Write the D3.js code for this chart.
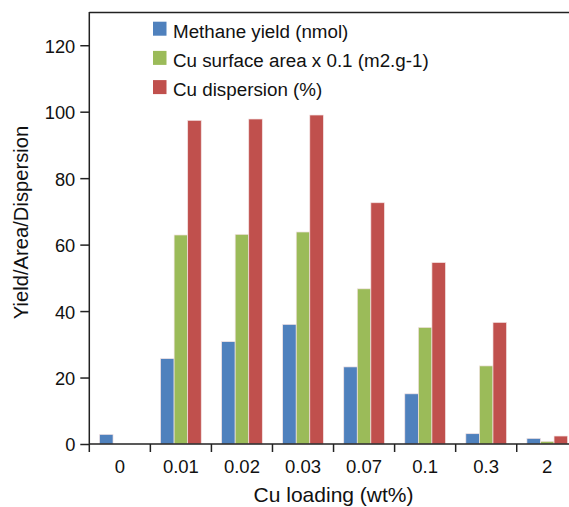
<!DOCTYPE html>
<html>
<head>
<meta charset="utf-8">
<script src="https://cdn.jsdelivr.net/npm/d3@7"></script>
<style>
  body { margin: 0; background: #fff; }
  svg { display: block; font-family: "Liberation Sans", Arial, sans-serif; }
</style>
</head>
<body>
<svg id="chart" width="569" height="507"></svg>
<script>
// chart data
const categories = ["0", "0.01", "0.02", "0.03", "0.07", "0.1", "0.3", "2"];
const seriesNames = ["Methane yield (nmol)", "Cu surface area x 0.1 (m2.g-1)", "Cu dispersion (%)"];
const methaneYield = [2.9, 25.7, 30.8, 36.0, 23.2, 15.1, 3.1, 1.7];
const surfaceArea = [0, 62.9, 63.1, 63.8, 46.7, 35.1, 23.5, 0.8];
const dispersion = [0, 97.4, 97.8, 99.0, 72.6, 54.6, 36.6, 2.4];
const yTicks = [0, 20, 40, 60, 80, 100, 120];

const colors = ["#4f81bd", "#9bbb59", "#c0504d"];
const seriesValues = [methaneYield, surfaceArea, dispersion];

const svg = d3.select("svg#chart");

const plotLeft = 89.3, plotTop = 12, plotBottom = 444;
const step = 61.06;

const x0 = d3.scaleBand()
             .domain(categories)
             .range([plotLeft, plotLeft + step * categories.length])
             .padding(0);

const x1 = d3.scaleBand()
             .domain(d3.range(seriesNames.length))
             .range([0, x0.bandwidth()])
             .paddingInner(0)
             .paddingOuter(0.75);

const y = d3.scaleLinear()
            .domain([0, 130])
            .range([plotBottom, plotTop]);

// bars
const groups = svg.append("g")
                  .selectAll("g")
                  .data(categories)
                  .join("g")
                  .attr("transform", d => `translate(${x0(d)},0)`);

groups.selectAll("rect")
      .data((c, i) => seriesValues.map((vals, s) => ({ s, v: vals[i] })))
      .join("rect")
      .filter(d => d.v > 0)
      .attr("x", d => x1(d.s))
      .attr("y", d => y(d.v))
      .attr("width", x1.bandwidth())
      .attr("height", d => y(0) - y(d.v))
      .attr("fill", d => colors[d.s])
      .attr("stroke", "#f4e4e4")
      .attr("stroke-width", 0.7);

// y axis
const yAxis = svg.append("g")
                 .attr("transform", `translate(${plotLeft},0)`)
                 .call(d3.axisLeft(y).tickValues(yTicks).tickSize(9).tickPadding(5).tickSizeOuter(0));
yAxis.select(".domain").remove();
yAxis.selectAll("line").attr("stroke", "#222").attr("stroke-width", 1.5);
yAxis.selectAll("text")
     .attr("font-size", 18.3)
     .attr("dy", "0.38em")
     .attr("fill", "#111");

// x axis: ticks at band edges, labels at band centres
const edges = categories.map(c => x0(c));
svg.append("g")
   .selectAll("line")
   .data(edges)
   .join("line")
   .attr("x1", d => d).attr("x2", d => d)
   .attr("y1", plotBottom).attr("y2", plotBottom + 8)
   .attr("stroke", "#222")
   .attr("stroke-width", 1.5);

svg.append("g")
   .selectAll("text")
   .data(categories)
   .join("text")
   .attr("x", d => x0(d) + x0.bandwidth() / 2)
   .attr("y", 473)
   .attr("text-anchor", "middle")
   .attr("font-size", 18.5)
   .attr("fill", "#111")
   .text(d => d);

// frame lines
svg.append("line")
   .attr("x1", plotLeft).attr("x2", 569)
   .attr("y1", plotBottom).attr("y2", plotBottom)
   .attr("stroke", "#222").attr("stroke-width", 1.5);
svg.append("line")
   .attr("x1", plotLeft).attr("x2", 569)
   .attr("y1", plotTop + 0.5).attr("y2", plotTop + 0.5)
   .attr("stroke", "#222").attr("stroke-width", 1.5);
svg.append("line")
   .attr("x1", plotLeft).attr("x2", plotLeft)
   .attr("y1", plotTop).attr("y2", plotBottom)
   .attr("stroke", "#222").attr("stroke-width", 1.5);

// axis titles
svg.append("text")
   .attr("x", (x0.range()[0] + x0.range()[1]) / 2)
   .attr("y", 502)
   .attr("text-anchor", "middle")
   .attr("font-size", 21)
   .attr("fill", "#111")
   .text("Cu loading (wt%)");

svg.append("text")
   .attr("transform", "translate(27.5,222.5) rotate(-90)")
   .attr("text-anchor", "middle")
   .attr("font-size", 20.2)
   .attr("fill", "#111")
   .text("Yield/Area/Dispersion");

// legend
const legend = svg.append("g")
                  .selectAll("g")
                  .data(seriesNames)
                  .join("g")
                  .attr("transform", (d, i) => `translate(153,${21.7 + i * 29.2})`);

legend.append("rect")
      .attr("width", 13.5)
      .attr("height", 14)
      .attr("fill", (d, i) => colors[i]);

legend.append("text")
      .attr("x", 20)
      .attr("y", 15.8)
      .attr("font-size", 18.8)
      .attr("fill", "#111")
      .text(d => d);
</script>
</body>
</html>
